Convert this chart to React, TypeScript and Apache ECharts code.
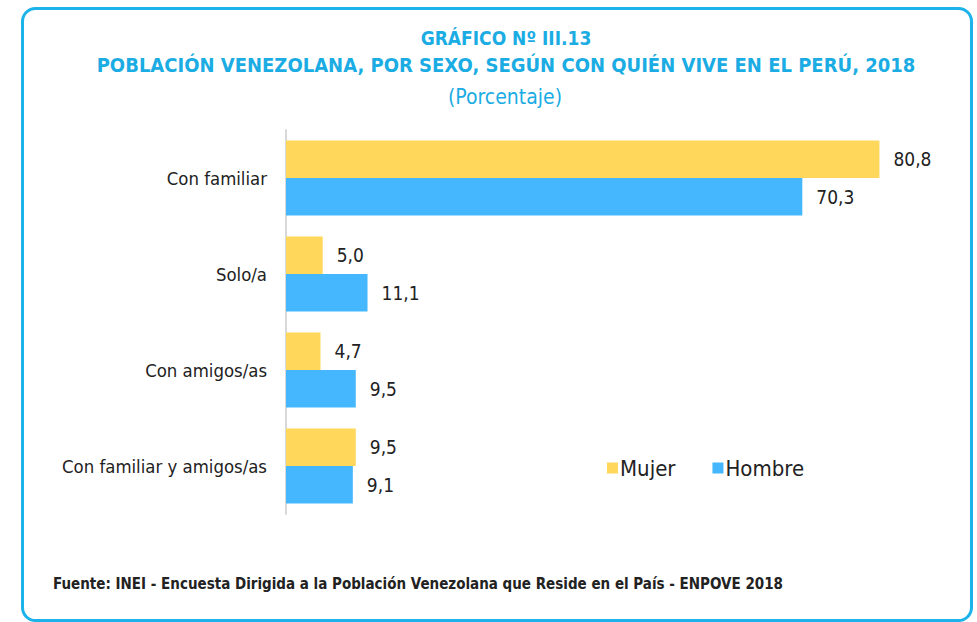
import React, { useEffect, useRef } from "react";
import * as echarts from "echarts";

const categories = ["Con familiar", "Solo/a", "Con amigos/as", "Con familiar y amigos/as"];
const mujer = [80.8, 5.0, 4.7, 9.5];
const hombre = [70.3, 11.1, 9.5, 9.1];
const seriesNames = ["Mujer", "Hombre"];
const titleLines = [
  "GRÁFICO Nº III.13",
  "POBLACIÓN VENEZOLANA, POR SEXO, SEGÚN CON QUIÉN VIVE EN EL PERÚ, 2018",
];
const subtitle = "(Porcentaje)";
const source =
  "Fuente: INEI - Encuesta Dirigida a la Población Venezolana que Reside en el País - ENPOVE 2018";

const FONT = '"Liberation Sans Narrow", "Arial Narrow", "DejaVu Sans Condensed", "Liberation Sans", Arial, sans-serif';
const CYAN = "#1AACE3";
const YELLOW = "#FFD85B";
const BLUE = "#45B7FE";

const fmt = (v: number) => v.toFixed(1).replace(".", ",");

export default function App() {
  const ref = useRef<HTMLDivElement>(null);
  useEffect(() => {
    if (!ref.current) return;
    const chart = echarts.init(ref.current, null, { renderer: "svg" });
    chart.setOption({
      animation: false,
      backgroundColor: "#ffffff",
      textStyle: { fontFamily: FONT },
      title: [
        {
          text: titleLines[0],
          left: 501,
          textAlign: "center",
          top: 23,
          textStyle: { fontFamily: FONT, fontSize: 19, fontWeight: "bold", color: CYAN },
        },
        {
          text: titleLines[1],
          left: 501,
          textAlign: "center",
          top: 50,
          textStyle: { fontFamily: FONT, fontSize: 20, fontWeight: "bold", color: CYAN },
        },
        {
          text: subtitle,
          left: 500,
          textAlign: "center",
          top: 81,
          textStyle: { fontFamily: FONT, fontSize: 21, fontWeight: "normal", color: CYAN },
        },
        {
          text: source,
          left: 48,
          top: 571,
          textStyle: { fontFamily: FONT, fontSize: 15, fontWeight: "bold", color: "#222222" },
        },
      ],
      graphic: [
        {
          type: "rect",
          shape: { x: 22.5, y: 8.5, width: 949, height: 612, r: 13 },
          style: { fill: "none", stroke: "#1CB3EA", lineWidth: 3 },
          silent: true,
        },
      ],
      legend: {
        data: seriesNames,
        left: 602,
        top: 452,
        icon: "rect",
        itemWidth: 11,
        itemHeight: 11,
        itemGap: 37,
        textStyle: { fontFamily: FONT, fontSize: 22, color: "#222222", padding: [0, 0, 0, -3] },
      },
      grid: {
        left: 286,
        top: 130,
        width: 661,
        height: 384,
        outerBoundsMode: "none",
      },
      xAxis: {
        type: "value",
        min: 0,
        max: 90,
        show: false,
      },
      yAxis: {
        type: "category",
        inverse: true,
        data: categories,
        axisLine: { show: true, lineStyle: { color: "#d9d9d9", width: 2 } },
        axisTick: { show: false },
        axisLabel: { fontFamily: FONT, fontSize: 18.4, color: "#222222", margin: 19 },
        splitLine: { show: false },
      },
      series: [
        {
          name: seriesNames[0],
          type: "bar",
          data: mujer,
          itemStyle: { color: YELLOW },
          barGap: "0%",
          barCategoryGap: "22%",
          label: {
            show: true,
            position: "right",
            distance: 14,
            fontFamily: FONT,
            fontSize: 19,
            color: "#222222",
            formatter: (p: any) => fmt(p.value),
          },
        },
        {
          name: seriesNames[1],
          type: "bar",
          data: hombre,
          itemStyle: { color: BLUE },
          barGap: "0%",
          barCategoryGap: "22%",
          label: {
            show: true,
            position: "right",
            distance: 14,
            fontFamily: FONT,
            fontSize: 19,
            color: "#222222",
            formatter: (p: any) => fmt(p.value),
          },
        },
      ],
    });
    return () => chart.dispose();
  }, []);
  return (
    <div
      ref={ref}
      style={{ position: "fixed", left: 0, top: 0, width: 977, height: 622, background: "#fff" }}
    />
  );
}
